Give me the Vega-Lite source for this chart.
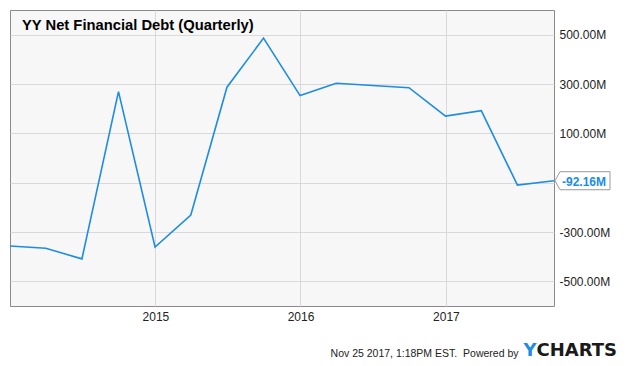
{
  "$schema": "https://vega.github.io/schema/vega-lite/v6.json",
  "width": 544,
  "height": 296,
  "autosize": {"type": "none"},
  "padding": {"left": 10, "top": 10, "right": 81, "bottom": 60},
  "background": "#ffffff",
  "config": {
    "font": "Liberation Sans",
    "view": {"stroke": "#8a8a8a", "strokeWidth": 1, "fill": "#f7f7f7"}
  },
  "title": {
    "text": "YY Net Financial Debt (Quarterly)",
    "anchor": "start",
    "frame": "group",
    "orient": "top",
    "offset": -35,
    "dx": 12,
    "align": "left",
    "baseline": "alphabetic",
    "font": "Liberation Sans",
    "fontSize": 14.75,
    "fontWeight": "bold",
    "color": "#000000"
  },
  "data": {
    "values": [
      {"date": "2013-12-31", "value": -357},
      {"date": "2014-03-31", "value": -366},
      {"date": "2014-06-30", "value": -409},
      {"date": "2014-09-30", "value": 269},
      {"date": "2014-12-31", "value": -361},
      {"date": "2015-03-31", "value": -231},
      {"date": "2015-06-30", "value": 287},
      {"date": "2015-09-30", "value": 486},
      {"date": "2015-12-31", "value": 253},
      {"date": "2016-03-31", "value": 303},
      {"date": "2016-09-30", "value": 285},
      {"date": "2016-12-31", "value": 170},
      {"date": "2017-03-31", "value": 192},
      {"date": "2017-06-30", "value": -110},
      {"date": "2017-09-30", "value": -92.16}
    ]
  },
  "encoding": {
    "x": {
      "field": "date",
      "type": "temporal",
      "scale": {"type": "utc", "nice": false, "padding": 0},
      "axis": {
        "orient": "bottom",
        "values": [
          {"year": 2015, "month": 1, "date": 1, "utc": true},
          {"year": 2016, "month": 1, "date": 1, "utc": true},
          {"year": 2017, "month": 1, "date": 1, "utc": true}
        ],
        "format": "%Y",
        "grid": true,
        "gridColor": "#d9d9d9",
        "gridWidth": 1,
        "ticks": false,
        "domain": false,
        "labelFont": "Liberation Sans",
        "labelFontSize": 12,
        "labelColor": "#222222",
        "labelPadding": 5,
        "title": "Nov 25 2017, 1:18PM EST.\u00a0 Powered by",
        "titleFont": "Liberation Sans",
        "titleFontSize": 10.5,
        "titleFontWeight": "normal",
        "titleColor": "#222222",
        "titleAlign": "right",
        "titleBaseline": "alphabetic",
        "titleAnchor": "start",
        "titleX": 508,
        "titleY": 50
      }
    }
  },
  "resolve": {"axis": {"y": "independent"}},
  "layer": [
    {
      "mark": {"type": "line", "color": "#1c8ce6", "strokeWidth": 1.6},
      "encoding": {
        "y": {
          "field": "value",
          "type": "quantitative",
          "scale": {"domain": [-600, 600], "nice": false, "zero": false},
          "axis": {
            "orient": "right",
            "values": [-500, -300, -100, 100, 300, 500],
            "labelExpr": "datum.value == -100 ? '' : replace(format(datum.value, '.2f'), '\u2212', '-') + 'M'",
            "grid": true,
            "gridColor": "#d9d9d9",
            "gridWidth": 1,
            "ticks": false,
            "domain": false,
            "labelFont": "Liberation Sans",
            "labelFontSize": 12,
            "labelColor": "#222222",
            "labelPadding": 5,
            "labelAlign": "left",
            "title": "CHARTS",
            "titleFont": "DejaVu Sans",
            "titleFontSize": 18,
            "titleFontWeight": "bold",
            "titleColor": "#1a1a1a",
            "titleAngle": 0,
            "titleAlign": "left",
            "titleBaseline": "alphabetic",
            "titleAnchor": "start",
            "titleX": -18,
            "titleY": 345
          }
        }
      }
    },
    {
      "transform": [{"filter": "datum.value == -92.16"}],
      "mark": {
        "type": "point",
        "shape": "M0.018,0L0.107,-0.161L1,-0.161L1,0.161L0.107,0.161Z",
        "filled": true,
        "fill": "#ffffff",
        "stroke": "#9a9a9a",
        "strokeWidth": 1,
        "opacity": 1,
        "size": 12544,
        "clip": false
      },
      "encoding": {
        "y": {
          "field": "value",
          "type": "quantitative",
          "axis": {
            "orient": "left",
            "labels": false,
            "ticks": false,
            "domain": false,
            "grid": false,
            "title": "Y",
            "titleFont": "DejaVu Sans",
            "titleFontSize": 18,
            "titleFontWeight": "bold",
            "titleColor": "#1c8ce6",
            "titleAngle": 0,
            "titleAlign": "left",
            "titleBaseline": "alphabetic",
            "titleAnchor": "start",
            "titleX": 513,
            "titleY": 345
          }
        }
      }
    },
    {
      "transform": [
        {"filter": "datum.value == -92.16"},
        {"calculate": "replace(format(datum.value, '.2f'), '\u2212', '-') + 'M'", "as": "label"}
      ],
      "mark": {
        "type": "text",
        "align": "left",
        "baseline": "middle",
        "dx": 8,
        "dy": 1,
        "font": "Liberation Sans",
        "fontSize": 12,
        "fontWeight": "bold",
        "color": "#1c8ce6",
        "clip": false
      },
      "encoding": {
        "y": {"field": "value", "type": "quantitative", "axis": null},
        "text": {"field": "label"}
      }
    }
  ]
}
